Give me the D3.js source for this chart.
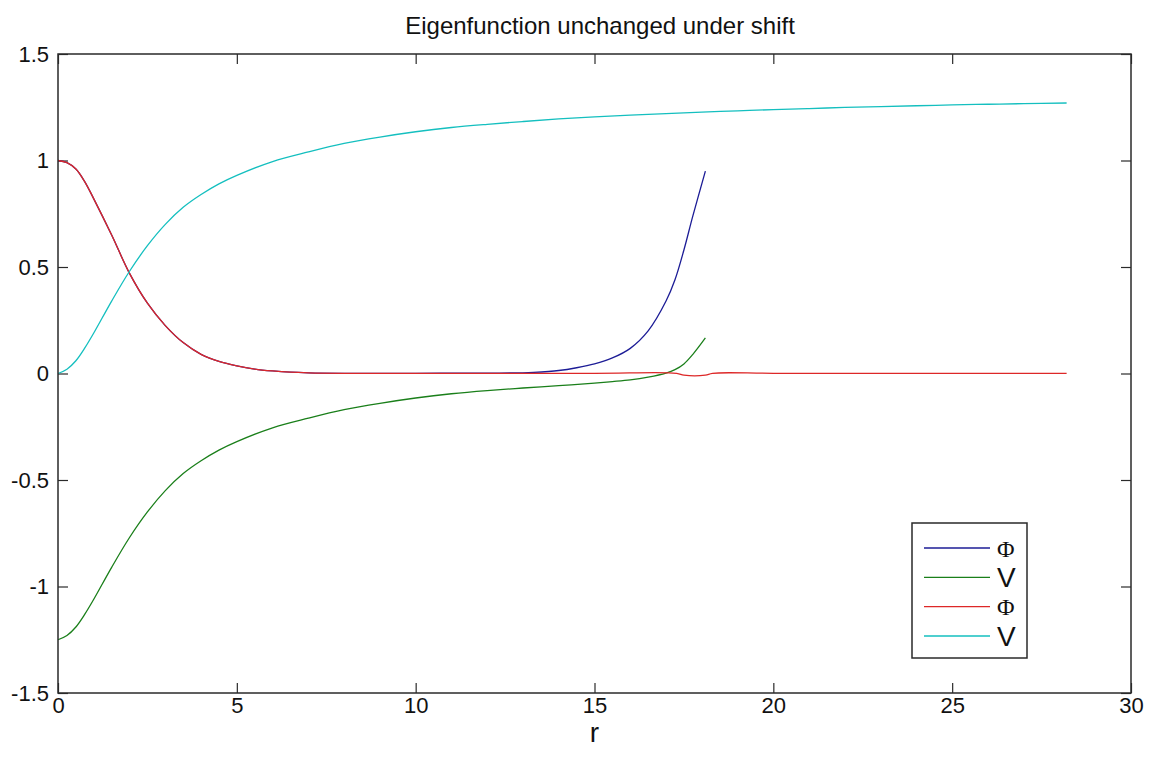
<!DOCTYPE html>
<html>
<head>
<meta charset="utf-8">
<script src="https://cdn.jsdelivr.net/npm/d3@7"></script>
<style>
  html, body { margin: 0; padding: 0; background: #fff; }
  svg { display: block; }
  text { font-family: "Liberation Sans", Arial, sans-serif; fill: #111; }
</style>
</head>
<body>
<div id="chart"></div>
<script>
// Radial profiles: Φ and V for the original and the shifted solution.
const rBlue   = [0, 0.25, 0.5, 0.75, 1, 1.5, 2, 2.5, 3, 3.5, 4, 4.5, 5, 5.5, 6, 6.5, 7, 8, 10, 12, 13, 13.3, 14, 14.5, 15, 15.5, 16, 16.5, 17, 17.25, 17.5, 17.75, 18.1];
const phiBlue = [1, 0.99, 0.96, 0.9, 0.82, 0.65, 0.47, 0.33, 0.225, 0.145, 0.09, 0.057, 0.036, 0.021, 0.012, 0.006, 0.003, 0.001, 0.001, 0.002, 0.003, 0.005, 0.014, 0.027, 0.045, 0.073, 0.118, 0.2, 0.34, 0.44, 0.58, 0.74, 0.95];

const rGreen  = [0, 0.25, 0.5, 0.75, 1, 1.5, 2, 2.5, 3, 3.5, 4, 4.5, 5, 6, 7, 8, 9, 10, 11, 12, 13, 14, 15, 15.5, 16, 16.5, 17, 17.25, 17.5, 17.75, 18.1];
const vGreen  = [-1.25, -1.23, -1.19, -1.13, -1.06, -0.91, -0.77, -0.65, -0.55, -0.47, -0.41, -0.36, -0.32, -0.255, -0.21, -0.17, -0.14, -0.115, -0.095, -0.08, -0.068, -0.057, -0.045, -0.038, -0.03, -0.017, 0.002, 0.018, 0.045, 0.09, 0.167];

const rRed    = [0, 0.25, 0.5, 0.75, 1, 1.5, 2, 2.5, 3, 3.5, 4, 4.5, 5, 5.5, 6, 6.5, 7, 8, 10, 15, 17.3, 17.5, 18.1, 18.3, 20, 24, 28.2];
const phiRed  = [1, 0.99, 0.96, 0.9, 0.82, 0.65, 0.47, 0.33, 0.225, 0.145, 0.09, 0.057, 0.036, 0.021, 0.012, 0.006, 0.003, 0.001, 0.001, 0.001, 0.001, -0.008, -0.008, 0.001, 0.001, 0.001, 0.001];

const rCyan   = [0, 0.25, 0.5, 0.75, 1, 1.5, 2, 2.5, 3, 3.5, 4, 4.5, 5, 6, 7, 8, 9, 10, 11, 12, 13, 14, 15, 16, 17, 18, 19, 20, 21, 22, 23, 24, 25, 26, 27, 28.2];
const vCyan   = [0, 0.02, 0.06, 0.12, 0.19, 0.34, 0.48, 0.6, 0.7, 0.78, 0.84, 0.89, 0.93, 0.995, 1.04, 1.08, 1.11, 1.135, 1.155, 1.17, 1.183, 1.195, 1.205, 1.213, 1.22, 1.227, 1.233, 1.239, 1.244, 1.249, 1.253, 1.257, 1.261, 1.264, 1.267, 1.27];

const seriesNames  = ["Φ", "V", "Φ", "V"];
const seriesColors = ["#1c1c96", "#1a7f1a", "#dd2828", "#14bfbf"];

const xTicks = [0, 5, 10, 15, 20, 25, 30];
const yTicks = [-1.5, -1, -0.5, 0, 0.5, 1, 1.5];
const titleText = "Eigenfunction unchanged under shift";
const xLabelText = "r";

const W = 1159, H = 759;
const plot = { left: 58, right: 1131, top: 54, bottom: 693 };

const svg = d3.select("#chart").append("svg").attr("width", W).attr("height", H);
svg.append("rect").attr("width", W).attr("height", H).attr("fill", "#fff");

const x = d3.scaleLinear().domain([0, 30]).range([plot.left, plot.right]);
const y = d3.scaleLinear().domain([-1.5, 1.5]).range([plot.bottom, plot.top]);

const series = [
  { r: rBlue,  v: phiBlue },
  { r: rGreen, v: vGreen },
  { r: rRed,   v: phiRed },
  { r: rCyan,  v: vCyan }
].map((s, i) => ({ pts: s.r.map((rv, k) => [rv, s.v[k]]), color: seriesColors[i], name: seriesNames[i] }));

const line = d3.line().x(d => x(d[0])).y(d => y(d[1])).curve(d3.curveCatmullRom.alpha(0.5));

const tickLen = 10;
const axisColor = "#2a2a2a";

// axes with inward ticks, mirrored on all four sides
const gx = svg.append("g").attr("transform", `translate(0,${plot.bottom})`)
  .call(d3.axisBottom(x).tickValues(xTicks).tickSizeInner(-tickLen).tickSizeOuter(0).tickPadding(4).tickFormat(d3.format("d")));
const gxt = svg.append("g").attr("transform", `translate(0,${plot.top})`)
  .call(d3.axisTop(x).tickValues(xTicks).tickSizeInner(-tickLen).tickSizeOuter(0).tickFormat(""));
const gy = svg.append("g").attr("transform", `translate(${plot.left},0)`)
  .call(d3.axisLeft(y).tickValues(yTicks).tickSizeInner(-tickLen).tickSizeOuter(0).tickPadding(9).tickFormat(d => String(d)));
const gyr = svg.append("g").attr("transform", `translate(${plot.right},0)`)
  .call(d3.axisRight(y).tickValues(yTicks).tickSizeInner(-tickLen).tickSizeOuter(0).tickFormat(""));

[gx, gxt, gy, gyr].forEach(g => {
  g.select(".domain").remove();
  g.selectAll(".tick line").attr("stroke", axisColor).attr("stroke-width", 1.2);
  g.selectAll(".tick text").attr("font-size", 22).attr("fill", "#222")
    .style("font-family", "'Liberation Sans', Arial, sans-serif");
});
gx.selectAll(".tick text").attr("dy", "0.72em");

// data lines
const gl = svg.append("g");
series.forEach(s => {
  gl.append("path").datum(s.pts).attr("d", line)
    .attr("fill", "none").attr("stroke", s.color).attr("stroke-width", 1.3);
});

// axes box
svg.append("rect")
  .attr("x", plot.left).attr("y", plot.top)
  .attr("width", plot.right - plot.left).attr("height", plot.bottom - plot.top)
  .attr("fill", "none").attr("stroke", axisColor).attr("stroke-width", 1.5);

// title and axis label
svg.append("text").attr("x", 600).attr("y", 34)
  .attr("text-anchor", "middle").attr("font-size", 24).text(titleText);
svg.append("text").attr("x", x(15)).attr("y", 742)
  .attr("text-anchor", "middle").attr("font-size", 28).text(xLabelText);

// legend
const lg = { left: 912, right: 1027, top: 523, bottom: 658 };
const lgG = svg.append("g");
lgG.append("rect").attr("x", lg.left).attr("y", lg.top)
  .attr("width", lg.right - lg.left).attr("height", lg.bottom - lg.top)
  .attr("fill", "#fff").attr("stroke", axisColor).attr("stroke-width", 1.5);
const rowY = d3.scalePoint().domain(d3.range(series.length)).range([548, 636]);
series.forEach((s, i) => {
  const yy = rowY(i);
  lgG.append("line").attr("x1", 924).attr("x2", 990).attr("y1", yy).attr("y2", yy)
    .attr("stroke", s.color).attr("stroke-width", 1.3);
  const isPhi = s.name === "Φ";
  lgG.append("text").attr("x", 997).attr("y", yy).attr("dy", "0.36em")
    .attr("font-size", isPhi ? 24 : 28)
    .style("font-family", isPhi ? "'Liberation Serif', 'DejaVu Serif', serif" : "'Liberation Sans', Arial, sans-serif")
    .text(s.name);
});
</script>
</body>
</html>
